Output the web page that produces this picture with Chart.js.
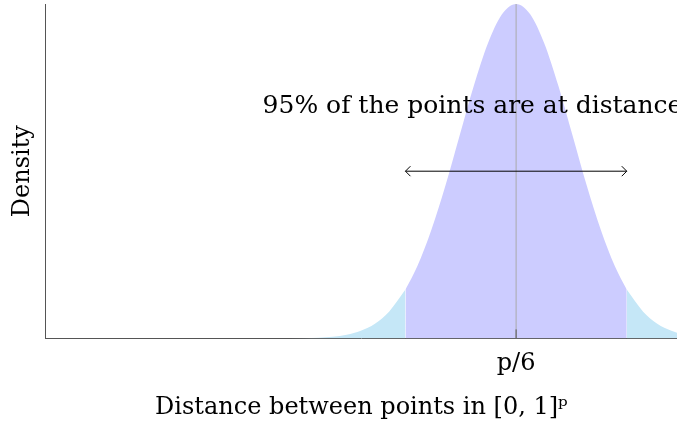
<!DOCTYPE html>
<html>
<head>
<meta charset="utf-8">
<script src="https://cdn.jsdelivr.net/npm/chart.js@4"></script>
<style>
  body { margin: 0; background: #fff; overflow: hidden; }
  #wrap { width: 677px; height: 427px; }
</style>
</head>
<body>
<div id="wrap"><canvas id="chart1"></canvas></div>
<script>
// offsets from the mean, in standard deviations
const offsets = [-8.33, -4.0, -3.5, -3.25, -3.0, -2.75, -2.5, -2.25, -1.96, -1.75, -1.5, -1.25, -1.0, -0.75, -0.5, -0.25, 0,
    0.25, 0.5, 0.75, 1.0, 1.25, 1.5, 1.75, 1.96, 2.25, 2.5, 2.75, 2.85];
// relative density (peak = 1)
const density = [0, 0, 0.002, 0.005, 0.011, 0.023, 0.044, 0.08, 0.146, 0.216, 0.325, 0.458, 0.607, 0.755, 0.882, 0.969, 1,
    0.969, 0.882, 0.755, 0.607, 0.458, 0.325, 0.216, 0.146, 0.08, 0.044, 0.023, 0.017];

const lowerBound = -1.96;
const upperBound = 1.96;
const arrowLevel = 0.5;

const tickValues = [0];
const tickLabels = ['p/6'];

const noteText = '95% of the points are at distance';
const noteAt = {x: -4.49, y: 0.673};

const pts = offsets.map((x, i) => ({x: x, y: density[i]}));
const leftTail = pts.filter(p => p.x <= lowerBound);
const middle = pts.filter(p => p.x >= lowerBound && p.x <= upperBound);
const rightTail = pts.filter(p => p.x >= upperBound);

const serif = "'DejaVu Serif', serif";

const extras = {
    id: 'extras',
    afterDatasetsDraw(chart) {
        const c = chart.ctx;
        const xs = chart.scales.x, ys = chart.scales.y;
        c.save();
        // arrow heads
        const yA = ys.getPixelForValue(arrowLevel);
        const xL = xs.getPixelForValue(lowerBound);
        const xR = xs.getPixelForValue(upperBound);
        c.strokeStyle = '#000';
        c.lineWidth = 1;
        c.beginPath();
        c.moveTo(xL + 5, yA - 5); c.lineTo(xL, yA); c.lineTo(xL + 5, yA + 5);
        c.moveTo(xR - 5, yA - 5); c.lineTo(xR, yA); c.lineTo(xR - 5, yA + 5);
        c.stroke();
        // little tick at the mean
        c.strokeStyle = '#555';
        const x0 = xs.getPixelForValue(tickValues[0]);
        c.beginPath();
        c.moveTo(x0, ys.bottom); c.lineTo(x0, ys.bottom - 9);
        c.stroke();
        // note
        c.fillStyle = '#000';
        c.font = '25px ' + serif;
        c.textBaseline = 'alphabetic';
        c.fillText(noteText, xs.getPixelForValue(noteAt.x), ys.getPixelForValue(noteAt.y));
        c.restore();
    }
};

const ctx = document.querySelector('#chart1');

new Chart(ctx, {
    type: 'line',
    data: {
        datasets: [{
            data: middle,
            fill: 'origin',
            backgroundColor: '#ccccff',
            borderWidth: 0,
            pointRadius: 0,
            cubicInterpolationMode: 'monotone',
            order: 3
        }, {
            data: leftTail,
            fill: 'origin',
            backgroundColor: '#c5e7f7',
            borderWidth: 0,
            pointRadius: 0,
            cubicInterpolationMode: 'monotone',
            order: 3
        }, {
            data: rightTail,
            fill: 'origin',
            backgroundColor: '#c5e7f7',
            borderWidth: 0,
            pointRadius: 0,
            cubicInterpolationMode: 'monotone',
            order: 3
        }, {
            data: [{x: 0, y: 0}, {x: 0, y: 1}],
            borderColor: '#aaaaaa',
            borderWidth: 1,
            pointRadius: 0,
            order: 2
        }, {
            data: [{x: lowerBound, y: arrowLevel}, {x: upperBound, y: arrowLevel}],
            borderColor: '#000',
            borderWidth: 1,
            pointRadius: 0,
            order: 1
        }]
    },
    options: {
        responsive: true,
        maintainAspectRatio: false,
        animation: false,
        layout: {
            padding: {top: 4, right: 0, left: 0, bottom: 0}
        },
        plugins: {
            legend: {display: false},
            tooltip: {enabled: false}
        },
        scales: {
            x: {
                type: 'linear',
                min: -8.33,
                max: 2.85,
                grid: {display: false, drawTicks: false},
                border: {display: true, color: '#555', width: 1},
                afterBuildTicks: (axis) => {
                    axis.ticks = tickValues.map(v => ({value: v}));
                },
                ticks: {
                    color: '#000',
                    padding: 11,
                    font: {family: serif, size: 24},
                    callback: (v) => tickLabels[tickValues.indexOf(v)]
                },
                title: {
                    display: true,
                    text: 'Distance between points in [0, 1]ᵖ',
                    color: '#000',
                    font: {family: serif, size: 24},
                    padding: {top: 4, bottom: 5}
                }
            },
            y: {
                min: 0,
                max: 1,
                grid: {display: false, drawTicks: false},
                border: {display: true, color: '#555', width: 1},
                ticks: {display: false},
                title: {
                    display: true,
                    text: 'Density',
                    color: '#000',
                    font: {family: serif, size: 24},
                    padding: {top: 8, bottom: 9}
                }
            }
        }
    },
    plugins: [extras]
});
</script>
</body>
</html>
